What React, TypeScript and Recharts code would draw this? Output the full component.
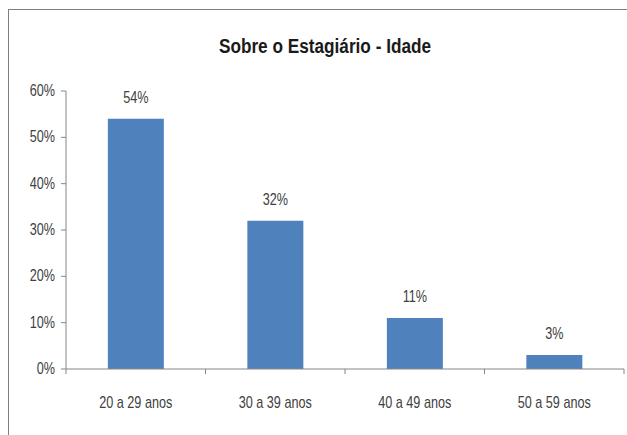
import { BarChart, Bar, XAxis, YAxis, LabelList } from 'recharts';

const categories = ['20 a 29 anos', '30 a 39 anos', '40 a 49 anos', '50 a 59 anos'];
const shares = [54, 32, 11, 3];
const yTicks = [0, 10, 20, 30, 40, 50, 60];

const data = categories.map((name, i) => ({ name, value: shares[i] }));

const FONT = '"Liberation Sans", Arial, sans-serif';
const AXIS = '#868686';
const TEXT = '#404040';
const SQUEEZE = 0.79;

// condensed text, to get close to the narrow office font
const Narrow = ({ x, y, anchor, children }: any) => (
  <text
    transform={`translate(${x},${y}) scale(${SQUEEZE},1)`}
    textAnchor={anchor}
    fontSize={16}
    fill={TEXT}
    fontFamily={FONT}
  >
    {children}
  </text>
);

const CategoryTick = ({ x, y, payload, index }: any) => {
  const half = payload.offset || 0;
  return (
    <g>
      {index === 0 && <line x1={x - half} x2={x - half} y1={y - 8} y2={y - 3} stroke={AXIS} />}
      <line x1={x + half} x2={x + half} y1={y - 8} y2={y - 3} stroke={AXIS} />
      <Narrow x={x} y={y + 31} anchor="middle">{payload.value}</Narrow>
    </g>
  );
};

const ValueTick = ({ x, y, payload }: any) => (
  <Narrow x={x - 4} y={y + 5} anchor="end">{`${payload.value}%`}</Narrow>
);

const TopLabel = ({ x, y, width, value }: any) => (
  <Narrow x={x + width / 2} y={y - 16} anchor="middle">{`${value}%`}</Narrow>
);

export default function App() {
  return (
    <div style={{ position: 'absolute', left: 0, top: 0, width: 627, height: 435, overflow: 'hidden', background: '#fff' }}>
      <div
        style={{
          position: 'absolute',
          left: 8,
          top: 9,
          width: 700,
          height: 500,
          borderTop: '1.5px solid #7f7f7f',
          borderLeft: '1.5px solid #7f7f7f',
        }}
      />
      <div
        style={{
          position: 'absolute',
          left: 0,
          top: 35,
          width: 650,
          textAlign: 'center',
          fontFamily: FONT,
          fontWeight: 'bold',
          fontSize: 20,
          color: '#1a1a1a',
          transform: 'scaleX(0.86)',
        }}
      >
        Sobre o Estagiário - Idade
      </div>
      <div style={{ position: 'absolute', left: 0, top: 0 }}>
        <BarChart
          width={627}
          height={435}
          data={data}
          margin={{ top: 91, right: 3, left: 0, bottom: 36 }}
          barCategoryGap="30%"
        >
          <XAxis
            dataKey="name"
            height={30}
            axisLine={{ stroke: AXIS }}
            tickLine={false}
            tick={<CategoryTick />}
            interval={0}
          />
          <YAxis
            width={66}
            domain={[0, 60]}
            ticks={yTicks}
            axisLine={{ stroke: AXIS }}
            tickLine={{ stroke: AXIS }}
            tickSize={5}
            tick={<ValueTick />}
          />
          <Bar dataKey="value" fill="#4F81BD" isAnimationActive={false}>
            <LabelList dataKey="value" content={<TopLabel />} />
          </Bar>
        </BarChart>
      </div>
    </div>
  );
}
